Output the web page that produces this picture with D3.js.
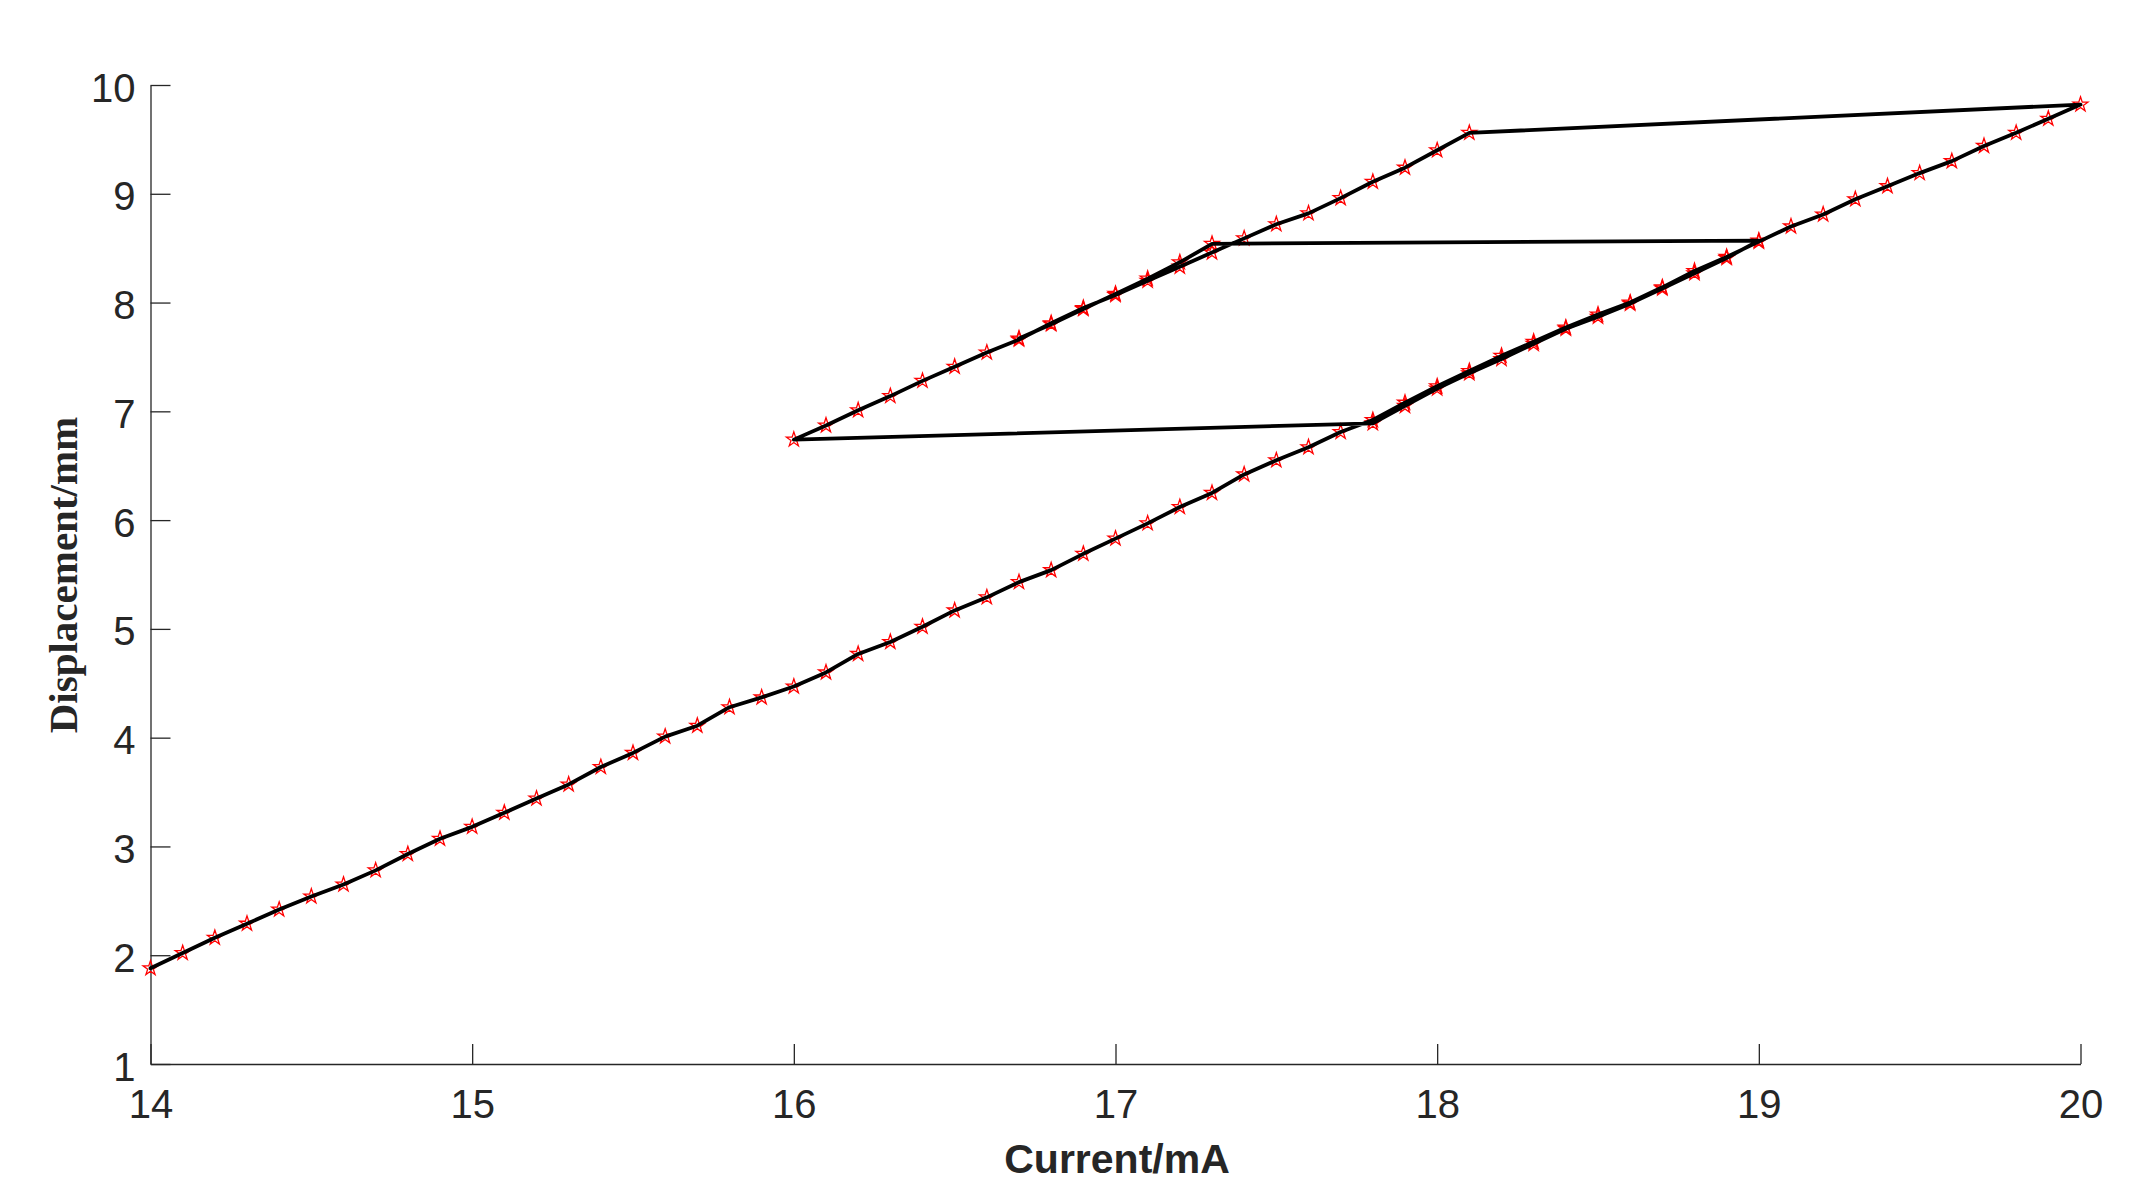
<!DOCTYPE html>
<html>
<head>
<meta charset="utf-8">
<script src="https://cdn.jsdelivr.net/npm/d3@7"></script>
<style>
  html, body { margin: 0; padding: 0; background: #ffffff; }
  svg { display: block; }
</style>
</head>
<body>
<svg id="chart" width="2140" height="1198"></svg>
<script>
// ---- Data ----
// Segment 1: current rising 14 -> 20 mA
const current1 = [14.0,14.1,14.2,14.3,14.4,14.5,14.6,14.7,14.8,14.9,
                  15.0,15.1,15.2,15.3,15.4,15.5,15.6,15.7,15.8,15.9,
                  16.0,16.1,16.2,16.3,16.4,16.5,16.6,16.7,16.8,16.9,
                  17.0,17.1,17.2,17.3,17.4,17.5,17.6,17.7,17.8,17.9,
                  18.0,18.1,18.2,18.3,18.4,18.5,18.6,18.7,18.8,18.9,
                  19.0,19.1,19.2,19.3,19.4,19.5,19.6,19.7,19.8,19.9,20.0];
const disp1 = [1.88,2.02,2.16,2.29,2.42,2.54,2.65,2.78,2.93,3.07,
               3.18,3.31,3.44,3.57,3.73,3.86,4.01,4.11,4.28,4.37,
               4.47,4.60,4.77,4.88,5.02,5.17,5.29,5.43,5.54,5.69,
               5.83,5.97,6.12,6.25,6.42,6.55,6.67,6.81,6.92,7.08,
               7.23,7.37,7.51,7.64,7.77,7.89,8.00,8.14,8.29,8.42,
               8.56,8.70,8.81,8.95,9.07,9.19,9.30,9.44,9.56,9.69,9.82];
// Segment 2: current falling 18.1 -> 16 mA
const current2 = [18.1,18.0,17.9,17.8,17.7,17.6,17.5,17.4,17.3,17.2,17.1,
                  17.0,16.9,16.8,16.7,16.6,16.5,16.4,16.3,16.2,16.1,16.0];
const disp2 = [9.56,9.40,9.24,9.11,8.96,8.82,8.72,8.59,8.46,8.33,8.20,
               8.07,7.95,7.81,7.66,7.54,7.41,7.28,7.14,7.01,6.87,6.74];
// Segment 3: current rising 17.8 -> 19 mA
const current3 = [17.8,17.9,18.0,18.1,18.2,18.3,18.4,18.5,18.6,18.7,18.8,18.9,19.0];
const disp3 = [6.89,7.05,7.21,7.35,7.48,7.62,7.76,7.87,7.99,8.13,8.27,8.41,8.57];
// Segment 4: current falling 17.3 -> 16.7 mA
const current4 = [17.3,17.2,17.1,17.0,16.9,16.8,16.7];
const disp4 = [8.54,8.37,8.22,8.08,7.94,7.80,7.67];

const xTicks = [14,15,16,17,18,19,20];
const yTicks = [1,2,3,4,5,6,7,8,9,10];
const xLabel = "Current/mA";
const yLabel = "Displacement/mm";

// ---- Build the single measured sequence ----
const points = [];
[[current1, disp1],[current2, disp2],[current3, disp3],[current4, disp4]].forEach(([cs, ds]) => {
  cs.forEach((c, i) => points.push({c: c, d: ds[i]}));
});

// ---- Scales ----
const svg = d3.select("#chart");
svg.append("rect").attr("width", 2140).attr("height", 1198).attr("fill", "#ffffff");

const x = d3.scaleLinear().domain([14, 20]).range([150.5, 2080.5]);
const y = d3.scaleLinear().domain([1, 10]).range([1064, 85]);

const axisColor = "#262626";
const tickFont = "'Liberation Sans', Arial, Helvetica, sans-serif";

// ---- Axes ----
const gx = svg.append("g").attr("transform", "translate(0,1064)")
  .call(d3.axisBottom(x).tickValues(xTicks).tickSizeInner(-20).tickSizeOuter(0).tickFormat(d3.format("d")));
const gy = svg.append("g").attr("transform", "translate(150.5,0)")
  .call(d3.axisLeft(y).tickValues(yTicks).tickSizeInner(-20).tickSizeOuter(0).tickFormat(d3.format("d")));

[gx, gy].forEach(g => {
  g.select(".domain").attr("stroke", axisColor).attr("stroke-width", 1.3);
  g.selectAll(".tick line").attr("stroke", axisColor).attr("stroke-width", 1.3);
  g.selectAll(".tick text")
    .attr("fill", axisColor)
    .style("font-family", tickFont)
    .style("font-size", "40px");
});
gx.selectAll(".tick text").attr("y", 54).attr("dy", null).attr("text-anchor", "middle");
gy.selectAll(".tick text").attr("x", -15).attr("y", 16).attr("dy", null).attr("text-anchor", "end");

// ---- Axis titles ----
svg.append("text")
  .attr("x", 1117).attr("y", 1173)
  .attr("text-anchor", "middle")
  .attr("fill", axisColor)
  .style("font-family", tickFont)
  .style("font-weight", "bold")
  .style("font-size", "41px")
  .text(xLabel);

svg.append("text")
  .attr("transform", "translate(77,575) rotate(-90)")
  .attr("text-anchor", "middle")
  .attr("fill", axisColor)
  .style("font-family", "'Liberation Serif', 'Times New Roman', serif")
  .style("font-weight", "bold")
  .style("font-size", "41px")
  .text(yLabel);

// ---- Markers (red pentagrams) ----
const star = d3.symbol().type(d3.symbolStar).size(68);
svg.append("g").selectAll("path")
  .data(points)
  .join("path")
  .attr("transform", p => `translate(${x(p.c)},${y(p.d)})`)
  .attr("d", star)
  .attr("fill", "none")
  .attr("stroke", "#ff0000")
  .attr("stroke-width", 1.3);

// ---- Line ----
const line = d3.line().x(p => x(p.c)).y(p => y(p.d));
svg.append("path")
  .datum(points)
  .attr("d", line)
  .attr("fill", "none")
  .attr("stroke", "#000000")
  .attr("stroke-width", 3.8)
  .attr("stroke-linejoin", "round")
  .attr("stroke-linecap", "round");
</script>
</body>
</html>
